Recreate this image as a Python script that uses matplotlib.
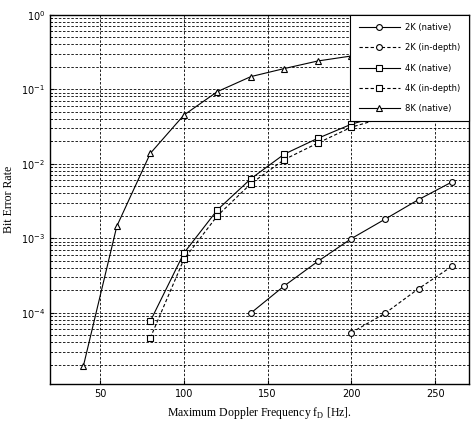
import matplotlib.pyplot as plt
import numpy as np

doppler = [40, 60, 80, 100, 120, 140, 160, 180, 200, 220, 240, 260]

# 2K mode
x_2k_native = [140, 160, 180, 200, 220, 240, 260]
ber_2k_native = [9.9e-5, 2.3e-4, 4.9e-4, 9.9e-4, 1.8e-3, 3.3e-3, 5.7e-3]
x_2k_indepth = [200, 220, 240, 260]
ber_2k_indepth = [5.4e-5, 9.8e-5, 2.1e-4, 4.2e-4]

# 4K mode
x_4k = [80, 100, 120, 140, 160, 180, 200, 220, 240, 260]
ber_4k_native = [7.7e-5, 6.3e-4, 2.4e-3, 6.3e-3, 1.35e-2, 2.2e-2, 3.4e-2, 4.6e-2, 5.8e-2, 7.0e-2]
ber_4k_indepth = [4.6e-5, 5.2e-4, 2.0e-3, 5.4e-3, 1.14e-2, 1.9e-2, 3.1e-2, 4.2e-2, 5.3e-2, 6.5e-2]

# 8K mode
ber_8k_native = [1.9e-5, 1.45e-3, 1.38e-2, 4.5e-2, 9.3e-2, 1.48e-1, 1.9e-1, 2.4e-1, 2.8e-1, 3.1e-1, 3.4e-1, 3.6e-1]

labels = ['2K (native)', '2K (in-depth)', '4K (native)', '4K (in-depth)', '8K (native)']

fig = plt.figure(figsize=(4.74, 4.23), dpi=100)
ax = fig.add_axes([0.105, 0.092, 0.884, 0.873])

mk = dict(color='black', lw=0.8, markersize=4.2, markerfacecolor='white', markeredgewidth=0.8)
ax.plot(x_2k_native, ber_2k_native, '-', marker='o', label=labels[0], **mk)
ax.plot(x_2k_indepth, ber_2k_indepth, '--', marker='o', label=labels[1], dashes=(3, 2), **mk)
ax.plot(x_4k, ber_4k_native, '-', marker='s', label=labels[2], **mk)
ax.plot(x_4k, ber_4k_indepth, '--', marker='s', label=labels[3], dashes=(3, 2), **mk)
ax.plot(doppler, ber_8k_native, '-', marker='^', label=labels[4], **mk)

ax.set_yscale('log')
ax.set_xlim(20, 270)
ax.set_ylim(1.1e-5, 1)
ax.set_xticks([50, 100, 150, 200, 250])
ax.set_yticks([1e-4, 1e-3, 1e-2, 1e-1, 1e0])
ax.yaxis.set_minor_locator(plt.matplotlib.ticker.LogLocator(base=10, subs=np.arange(2, 10)))
ax.yaxis.set_minor_formatter(plt.NullFormatter())

ax.grid(True, which='major', color='black', linestyle=(0, (3, 2)), linewidth=0.6)
ax.grid(True, which='minor', axis='y', color='black', linestyle=(0, (3, 2)), linewidth=0.6)
ax.tick_params(which='both', direction='in', labelsize=7, length=3)
ax.tick_params(which='minor', length=1.5)
for s in ax.spines.values():
    s.set_linewidth(1.0)

ax.set_xlabel('Maximum Doppler Frequency f$_\\mathregular{D}$ [Hz].', family='Liberation Serif', fontsize=8.5)
ax.set_ylabel('Bit Error Rate', family='Liberation Serif', fontsize=8.5)

leg = ax.legend(loc='upper right', fontsize=6, frameon=True, fancybox=False, edgecolor='black',
                framealpha=1, borderaxespad=0, handlelength=5, handletextpad=0.6,
                labelspacing=1.35, borderpad=1.0)
leg.get_frame().set_linewidth(0.8)

fig.savefig('out.png', dpi=100)
